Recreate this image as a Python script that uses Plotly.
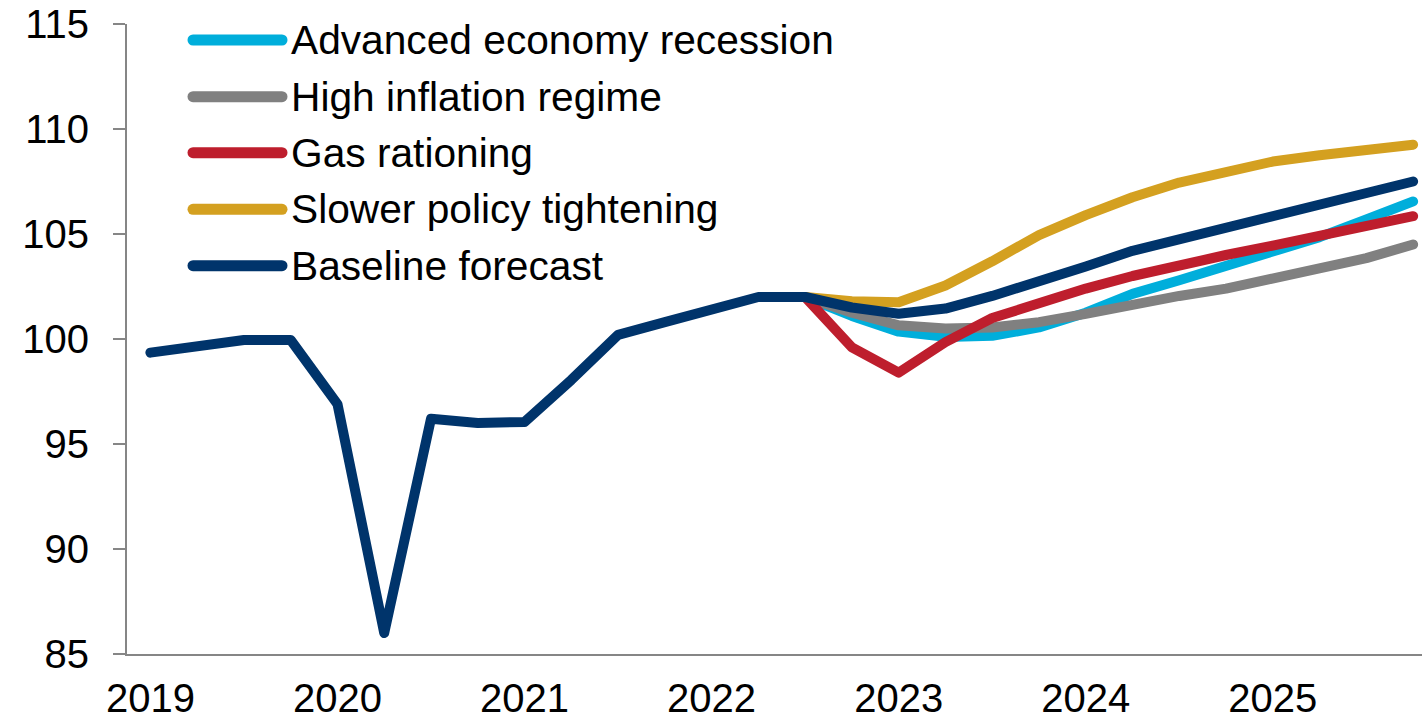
import plotly.graph_objects as go

# Quarterly index levels, 2019Q1 - 2025Q4
quarters = [f"{y}Q{q}" for y in range(2019, 2026) for q in range(1, 5)]
year_labels = ["2019", "2020", "2021", "2022", "2023", "2024", "2025"]

baseline = [99.35, 99.7, 99.95, 99.95, 96.9, 86.0, 96.2, 96.0,
            96.05, 98.05, 100.2, 100.8, 101.4, 102.0, 102.0, 101.5,
            101.2, 101.45, 102.05, 102.7, 103.45, 104.2, 104.75, 105.35,
            105.95, 106.5, 107.0, 107.5]

# Scenario paths branch off the baseline in 2022Q3
branch = [None] * 14
recession = branch + [102.0, 101.1, 100.35, 100.1, 100.15, 100.55, 101.25,
                      102.15, 102.8, 103.45, 104.2, 104.85, 105.7, 106.55]
high_inflation = branch + [102.0, 101.25, 100.65, 100.5, 100.55, 100.8, 101.2,
                           101.65, 102.05, 102.4, 102.9, 103.35, 103.85, 104.5]
gas_rationing = branch + [102.0, 99.6, 98.4, 99.85, 101.0, 101.75, 102.4,
                          103.0, 103.55, 104.0, 104.45, 104.95, 105.4, 105.85]
slower_tightening = branch + [102.0, 101.8, 101.75, 102.55, 103.7, 104.95, 105.9,
                              106.75, 107.45, 108.0, 108.45, 108.75, 109.0, 109.25]

series = [
    ("Advanced economy recession", recession, "#00AEDB"),
    ("High inflation regime", high_inflation, "#808080"),
    ("Gas rationing", gas_rationing, "#BE1E2D"),
    ("Slower policy tightening", slower_tightening, "#D4A020"),
    ("Baseline forecast", baseline, "#00346B"),
]

FONT = "Arial, Liberation Sans, sans-serif"
W, H = 1422, 720
ML, MR, MT, MB = 127, 0, 24, 66
PW, PH = W - ML - MR, H - MT - MB

fig = go.Figure()
for name, values, color in series:
    fig.add_trace(go.Scatter(
        x=quarters, y=values, name=name, mode="lines",
        line=dict(color=color, width=10), connectgaps=False,
        hoverinfo="skip", showlegend=False,
    ))

# Hand-built legend: long line keys with labels to their right
def px_to_paper(px, py):
    return (px - ML) / PW, (MT + PH - py) / PH

row_y = [40, 96.7, 152.7, 209.3, 265.7]
shapes, annotations = [], []
for (name, _, color), ry in zip(series, row_y):
    x0, y0 = px_to_paper(193, ry)
    x1, _ = px_to_paper(282, ry)
    shapes.append(dict(type="line", xref="paper", yref="paper",
                       x0=x0, x1=x1, y0=y0, y1=y0,
                       line=dict(color=color, width=11)))
    tx, _ = px_to_paper(289, ry)
    annotations.append(dict(text=name, xref="paper", yref="paper",
                            x=tx, y=y0, xanchor="left", yanchor="middle",
                            showarrow=False,
                            font=dict(family=FONT, size=40.7, color="#000000")))

fig.update_layout(
    width=W, height=H,
    margin=dict(l=ML, r=MR, t=MT, b=MB, pad=0),
    paper_bgcolor="white", plot_bgcolor="white",
    font=dict(family=FONT, size=40, color="#000000"),
    shapes=shapes, annotations=annotations,
    xaxis=dict(
        type="category", range=[-0.5, 27.19], automargin=False,
        tickmode="array", tickvals=quarters[::4], ticktext=year_labels,
        showgrid=False, zeroline=False,
        showline=True, linecolor="#868686", linewidth=2,
        ticks="", ticklabelstandoff=8,
        tickfont=dict(family=FONT, size=40, color="#000000"),
    ),
    yaxis=dict(
        range=[85, 115], tickmode="linear", tick0=85, dtick=5,
        automargin=False,
        showgrid=False, zeroline=False,
        showline=True, linecolor="#868686", linewidth=2,
        ticks="outside", ticklen=12, tickwidth=2, tickcolor="#868686",
        ticklabelstandoff=16,
        tickfont=dict(family=FONT, size=40, color="#000000"),
    ),
    showlegend=False,
)

round_caps = (
    "var gd=document.getElementById('{plot_id}');"
    "gd.querySelectorAll('.scatterlayer .js-line, .shapelayer path')"
    ".forEach(function(p){p.style.strokeLinecap='round';"
    "p.style.strokeLinejoin='round';});"
)

fig.write_html("out.html", post_script=round_caps)
